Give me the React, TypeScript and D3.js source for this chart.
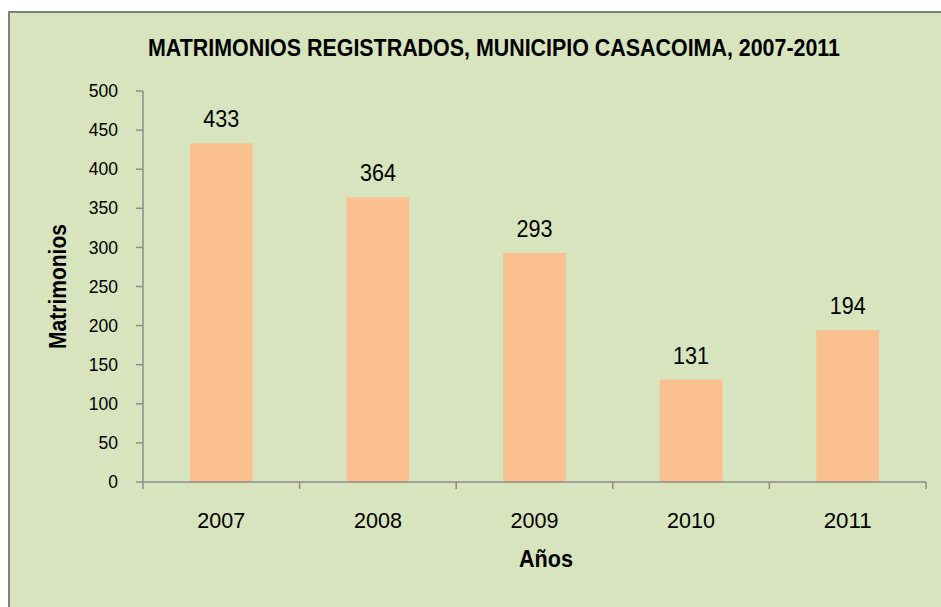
import React from "react";
import * as d3 from "d3";

const years = ["2007", "2008", "2009", "2010", "2011"];
const values = [433, 364, 293, 131, 194];
const yTicks = [0, 50, 100, 150, 200, 250, 300, 350, 400, 450, 500];
const title = "MATRIMONIOS REGISTRADOS, MUNICIPIO CASACOIMA, 2007-2011";
const xTitle = "Años";
const yTitle = "Matrimonios";

const W = 941;
const H = 607;
const plot = { left: 143, right: 926, top: 91, bottom: 482 };
const font = "'Liberation Sans', Arial, sans-serif";

export default function App() {
  const x = d3.scaleBand<string>().domain(years).range([plot.left, plot.right]).padding(0);
  const y = d3.scaleLinear().domain([0, 500]).range([plot.bottom, plot.top]);
  const bw = x.bandwidth() * 0.4;
  const axisColor = "#8c8c8c";
  const boundaries = years.map((d) => x(d) as number).concat([plot.right]);

  return (
    <svg width={W} height={H} style={{ position: "absolute", left: 0, top: 0 }}>
      <rect x={0} y={0} width={W} height={H} fill="#ffffff" />
      <rect x={9} y={12} width={1000} height={700} fill="#d7e4bd" stroke="#808080" strokeWidth={2} />
      <text
        x={494}
        y={56}
        textAnchor="middle"
        fontFamily={font}
        fontWeight="bold"
        fontSize={23.5}
        textLength={692}
        lengthAdjust="spacingAndGlyphs"
        fill="#000"
      >
        {title}
      </text>
      {values.map((v, i) => {
        const cx = (x(years[i]) as number) + x.bandwidth() / 2;
        return (
          <g key={years[i]}>
            <rect x={cx - bw / 2} y={y(v)} width={bw} height={y(0) - y(v)} fill="#fac090" />
            <text
              x={cx}
              y={y(v) - 16}
              textAnchor="middle"
              fontFamily={font}
              fontSize={23.5}
              textLength={String(v).length * 12}
              lengthAdjust="spacingAndGlyphs"
              fill="#000"
            >
              {v}
            </text>
            <text
              x={cx}
              y={528}
              textAnchor="middle"
              fontFamily={font}
              fontSize={22}
              textLength={48}
              lengthAdjust="spacingAndGlyphs"
              fill="#000"
            >
              {years[i]}
            </text>
          </g>
        );
      })}
      <line x1={plot.left} x2={plot.left} y1={plot.top} y2={plot.bottom} stroke={axisColor} strokeWidth={1.5} />
      {yTicks.map((t) => (
        <g key={t}>
          <line x1={plot.left - 7} x2={plot.left} y1={y(t)} y2={y(t)} stroke={axisColor} strokeWidth={1.5} />
          <text x={118} y={y(t)} dy="0.35em" textAnchor="end" fontFamily={font} fontSize={17.5} fill="#000">
            {t}
          </text>
        </g>
      ))}
      <line x1={plot.left} x2={plot.right} y1={plot.bottom} y2={plot.bottom} stroke={axisColor} strokeWidth={1.5} />
      {boundaries.map((b, i) => (
        <line key={i} x1={b} x2={b} y1={plot.bottom} y2={plot.bottom + 7} stroke={axisColor} strokeWidth={1.5} />
      ))}
      <text
        x={546}
        y={567}
        textAnchor="middle"
        fontFamily={font}
        fontWeight="bold"
        fontSize={23.5}
        textLength={54}
        lengthAdjust="spacingAndGlyphs"
        fill="#000"
      >
        {xTitle}
      </text>
      <text
        transform={`translate(66, ${(plot.top + plot.bottom) / 2}) rotate(-90)`}
        textAnchor="middle"
        fontFamily={font}
        fontWeight="bold"
        fontSize={23.5}
        textLength={125}
        lengthAdjust="spacingAndGlyphs"
        fill="#000"
      >
        {yTitle}
      </text>
    </svg>
  );
}
